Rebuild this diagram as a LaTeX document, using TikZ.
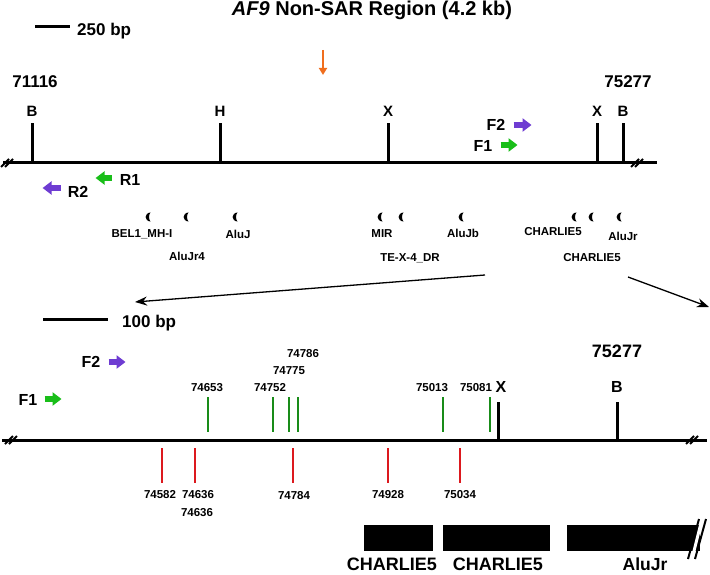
\documentclass[tikz,border=0pt]{standalone}
\usepackage{fontspec}
\setmainfont{Liberation Sans}
\usetikzlibrary{arrows.meta}
\definecolor{primergreen}{RGB}{25,190,25}
\definecolor{primerpurple}{RGB}{110,60,210}
\definecolor{sarorange}{RGB}{240,110,30}
\definecolor{snpgreen}{RGB}{25,140,25}
\definecolor{snpred}{RGB}{220,25,30}
\begin{document}
\begin{tikzpicture}[x=1pt,y=-1pt,
    lbl/.style={font=\fontsize{#1}{#1}\selectfont\bfseries, inner sep=0pt},
    lbl/.default=16,
    dna/.style={line width=3pt},
    snp/.style={line width=2pt},
    brk/.style={line width=2pt},
    primer/.style={line width=5.5pt, -{Triangle[length=9pt,width=13pt]}},
    zoomline/.style={line width=1.3pt, -{Stealth[length=12pt,width=9pt]}}]
\useasboundingbox (0,0) rectangle (710,575);

% title and scale
\node[lbl=20] (title) at (372,10) {\textit{AF9} Non-SAR Region (4.2 kb)};
\draw[dna] (35,27) -- (70,27);
\node[lbl=17, anchor=west] (bar250) at (77,31) {250 bp};
\coordinate (sartop) at (323,50);
\coordinate (sarbot) at (323,75);
\draw[line width=1.8pt, sarorange, -{Triangle[length=7pt,width=8pt]}] (sartop) -- (sarbot);

% upper map
\node[lbl=17] (start) at (35,82) {71116};
\node[lbl=17] (end) at (628,82) {75277};
\draw[dna] (3,163) -- (657,163);
\foreach \x/\e in {32/B,220/H,388/X,597/X,623/B} {
    \draw[dna] (\x,163) -- (\x,123);
    \node[lbl=15] (re-\x) at (\x,111) {\e};
}

\node[lbl] (F2t) at (496,125) {F2};
\draw[primer, primerpurple] ([xshift=8pt]F2t.east) -- ++(18,0);
\node[lbl] (F1t) at (483,146) {F1};
\draw[primer, primergreen] ([xshift=8pt,yshift=1pt]F1t.east) -- ++(17,0);
\node[lbl] (R1t) at (130,180) {R1};
\draw[primer, primergreen] ([xshift=-8pt,yshift=2pt]R1t.west) -- ++(-16,0);
\node[lbl] (R2t) at (78,192) {R2};
\draw[primer, primerpurple] ([xshift=-7pt,yshift=4pt]R2t.west) -- ++(-18,0);

% repeats
\foreach \x in {148,186,235,380,401,461,574,591,619}
    \fill (\x+2.5,212.5) .. controls (\x-4,213) and (\x-4,221) .. (\x+2.5,221.5)
        .. controls (\x+0.5,219.5) and (\x+0.5,214.5) .. cycle;
\node[lbl=11.5] (bel) at (142,234) {BEL1\_MH-I};
\node[lbl=11.5] (alujr4) at (187,256) {AluJr4};
\node[lbl=11.5] (aluj) at (238,234) {AluJ};
\node[lbl=11.5] (mir) at (382,234) {MIR};
\node[lbl=11.5] (tex) at (410,258) {TE-X-4\_DR};
\node[lbl=11.5] (alujb) at (463,233) {AluJb};
\node[lbl=11.5] (charlie1) at (553,232) {CHARLIE5};
\node[lbl=11.5] (alujr) at (623,236) {AluJr};
\node[lbl=11.5] (charlie2) at (592,258) {CHARLIE5};

% zoom lines
\coordinate (zsrcL) at (485,275);
\coordinate (ztgtL) at (135,302);
\coordinate (zsrcR) at (628,277);
\coordinate (ztgtR) at (709,307);
\draw[zoomline] (zsrcL) -- (ztgtL);
\draw[zoomline] (zsrcR) -- (ztgtR);

% lower map
\draw[dna] (43,319) -- (108,319);
\node[lbl=17, anchor=west] (bar100) at (122,323) {100 bp};
\node[lbl] (F2b) at (91,362) {F2};
\draw[primer, primerpurple] ([xshift=8pt]F2b.east) -- ++(17,0);
\node[lbl] (F1b) at (28,400) {F1};
\draw[primer, primergreen] ([xshift=7pt,yshift=1pt]F1b.east) -- ++(17,0);
\draw[dna] (2,440) -- (707,440);

\foreach \x in {208,273,289,298,443,490}
    \draw[snp, snpgreen] (\x,397) -- (\x,432);
\node[lbl=11.5] (s74653) at (207,388) {74653};
\node[lbl=11.5] (s74752) at (270,388) {74752};
\node[lbl=11.5] (s74775) at (289,371) {74775};
\node[lbl=11.5] (s74786) at (303,354) {74786};
\node[lbl=11.5] (s75013) at (432,388) {75013};
\node[lbl=11.5] (s75081) at (476,388) {75081};

\draw[dna] (498,440) -- (498,402);
\node[lbl] (Xb) at (501,387) {X};
\draw[dna] (617,440) -- (617,402);
\node[lbl] (Bb) at (617,387) {B};
\node[lbl=18] (endb) at (617,351) {75277};

\foreach \x in {162,195,293,388,460}
    \draw[snp, snpred] (\x,448) -- (\x,483);
\node[lbl=11.5] (s74582) at (160,495) {74582};
\node[lbl=11.5] (s74636) at (198,495) {74636};
\node[lbl=11.5] (s74636b) at (197,513) {74636};
\node[lbl=11.5] (s74784) at (294,496) {74784};
\node[lbl=11.5] (s74928) at (388,495) {74928};
\node[lbl=11.5] (s75034) at (460,495) {75034};

% breaks
\foreach \bx/\by in {8/163,638/163,12/440,693/440}
    \draw[brk] (\bx-7,\by+4) -- (\bx+1,\by-4) (\bx-3,\by+4) -- (\bx+5,\by-4);

% repeat blocks
\fill (364,525) rectangle (433,551);
\fill (443,525) rectangle (550,551);
\fill (567,525) rectangle (700,551);
\draw[line width=3pt, white] (692,559) -- (702,519);
\draw[brk] (688,559) -- (699,519) (695,559) -- (706,519);
\node[lbl=18] (c5a) at (392,564) {CHARLIE5};
\node[lbl=18] (c5b) at (498,564) {CHARLIE5};
\node[lbl=17.5] (alujrb) at (645,564) {AluJr};
\end{tikzpicture}
\end{document}
